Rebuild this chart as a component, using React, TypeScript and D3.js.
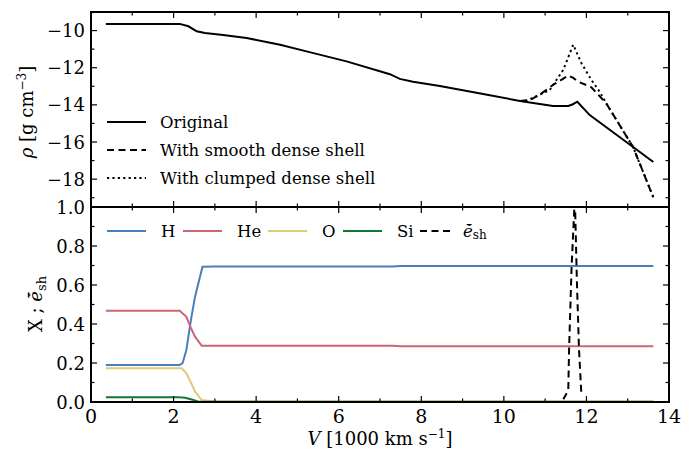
import React from 'react';
import * as d3 from 'd3';

// --- data ---
const origV = [0.36, 2.15, 2.36, 2.56, 2.76, 3.2, 3.77, 4.58, 5.22, 6.19, 7.24, 7.48, 7.8, 8.45, 9.4, 10.39, 11.19, 11.56, 11.66, 11.78, 12.08, 13.13, 13.62];
const origRho = [-9.64, -9.64, -9.77, -10.04, -10.13, -10.24, -10.4, -10.76, -11.12, -11.66, -12.35, -12.6, -12.75, -12.98, -13.38, -13.79, -14.06, -14.06, -13.98, -13.83, -14.55, -16.27, -17.08];

const smoothV = [10.39, 10.63, 10.9, 11.19, 11.56, 11.68, 11.8, 12.12, 12.48, 13.13, 13.62];
const smoothRho = [-13.79, -13.74, -13.4, -12.93, -12.42, -12.55, -12.75, -13.05, -13.92, -16.27, -18.98];

const clumpV = [10.39, 10.55, 11.11, 11.44, 11.68, 11.88, 12.12, 12.32, 12.48, 13.13, 13.62];
const clumpRho = [-13.79, -13.78, -13.2, -12.11, -10.76, -11.76, -12.66, -13.29, -13.92, -16.27, -18.98];

const hV = [0.36, 2.15, 2.22, 2.31, 2.42, 2.52, 2.7, 3.0, 7.3, 7.5, 13.62];
const hX = [0.19, 0.19, 0.2, 0.267, 0.42, 0.54, 0.694, 0.695, 0.695, 0.698, 0.698];
const heV = [0.36, 2.15, 2.31, 2.42, 2.52, 2.68, 3.0, 7.3, 7.5, 13.62];
const heX = [0.468, 0.468, 0.437, 0.38, 0.335, 0.289, 0.289, 0.289, 0.286, 0.286];
const oV = [0.36, 2.2, 2.31, 2.42, 2.52, 2.68, 3.0, 13.62];
const oX = [0.173, 0.173, 0.147, 0.1, 0.053, 0.01, 0.003, 0.003];
const siV = [0.36, 2.1, 2.28, 2.48, 2.6, 13.62];
const siX = [0.025, 0.025, 0.022, 0.01, 0.001, 0.001];
const eshV = [11.44, 11.56, 11.58, 11.64, 11.72, 11.77, 11.82, 11.88];
const eshX = [0.014, 0.06, 0.27, 0.69, 1.05, 0.61, 0.27, 0.03];

const xMajor = [0, 2, 4, 6, 8, 10, 12, 14];
const xMinor = [1, 3, 5, 7, 9, 11, 13];
const rhoMajor = [-10, -12, -14, -16, -18];
const rhoMinor = [-9, -11, -13, -15, -17, -19];
const xMajorB = [0, 0.2, 0.4, 0.6, 0.8, 1.0];
const xMinorB = [0.1, 0.3, 0.5, 0.7, 0.9];

const topLegend = ['Original', 'With smooth dense shell', 'With clumped dense shell'];
const species = ['H', 'He', 'O', 'Si'];
const speciesColors = ['#4a7ebb', '#cc6677', '#ddcc77', '#117733'];

const FONT = 'DejaVu Serif';
const L = 91, R = 669, T = 12, MID = 207, B = 402;

const zip = (a: number[], b: number[]) => a.map((v, i) => [v, b[i]] as [number, number]);

export default function App() {
  const x = d3.scaleLinear().domain([0, 14]).range([L, R]);
  const yTop = d3.scaleLinear().domain([-19.5, -9]).range([MID, T]);
  const yBot = d3.scaleLinear().domain([0, 1]).range([B, MID]);

  const lineTop = d3.line<[number, number]>().x(d => x(d[0])).y(d => yTop(d[1]));
  const lineBot = d3.line<[number, number]>().x(d => x(d[0])).y(d => yBot(d[1]));

  const speciesData = [zip(hV, hX), zip(heV, heX), zip(oV, oX), zip(siV, siX)];

  const dash = '7,4.5';
  const dot = '2.2,3.2';

  const ticksX = (y0: number, dir: number) => (
    <g stroke="#000" strokeWidth={1.2}>
      {xMajor.map(v => <line key={'M' + v} x1={x(v)} x2={x(v)} y1={y0} y2={y0 + dir * 6} />)}
      {xMinor.map(v => <line key={'m' + v} x1={x(v)} x2={x(v)} y1={y0} y2={y0 + dir * 3.5} />)}
    </g>
  );
  const ticksY = (scale: d3.ScaleLinear<number, number>, major: number[], minor: number[]) => (
    <g stroke="#000" strokeWidth={1.2}>
      {major.map(v => <g key={'M' + v}>
        <line x1={L} x2={L + 6} y1={scale(v)} y2={scale(v)} />
        <line x1={R} x2={R - 6} y1={scale(v)} y2={scale(v)} />
      </g>)}
      {minor.map(v => <g key={'m' + v}>
        <line x1={L} x2={L + 3.5} y1={scale(v)} y2={scale(v)} />
        <line x1={R} x2={R - 3.5} y1={scale(v)} y2={scale(v)} />
      </g>)}
    </g>
  );

  const botLegendX = [107, 183, 268, 343, 420];

  return (
    <div style={{ position: 'fixed', left: 0, top: 0 }}>
      <svg width={696} height={456} style={{ display: 'block', background: '#fff' }} fontFamily={FONT}>
        <defs>
          <clipPath id="clipTop"><rect x={L} y={T} width={R - L} height={MID - T} /></clipPath>
          <clipPath id="clipBot"><rect x={L} y={MID} width={R - L} height={B - MID} /></clipPath>
        </defs>

        {/* top panel */}
        <g clipPath="url(#clipTop)" fill="none" stroke="#000" strokeWidth={2}>
          <path d={lineTop(zip(origV, origRho)) || ''} />
          <path d={lineTop(zip(smoothV, smoothRho)) || ''} strokeDasharray={dash} />
          <path d={lineTop(zip(clumpV, clumpRho)) || ''} strokeDasharray={dot} />
        </g>

        {/* bottom panel */}
        <g clipPath="url(#clipBot)" fill="none" strokeWidth={2}>
          {speciesData.map((d, i) => (
            <path key={species[i]} d={lineBot(d) || ''} stroke={speciesColors[i]} />
          ))}
          <path d={lineBot(zip(eshV, eshX)) || ''} stroke="#000" strokeDasharray={dash} />
        </g>

        {/* frames & ticks */}
        {ticksX(T, 1)}
        {ticksX(MID, -1)}
        {ticksX(MID, 1)}
        {ticksX(B, -1)}
        {ticksY(yTop, rhoMajor, rhoMinor)}
        {ticksY(yBot, xMajorB, xMinorB)}
        <rect x={L} y={T} width={R - L} height={MID - T} fill="none" stroke="#000" strokeWidth={2} />
        <rect x={L} y={MID} width={R - L} height={B - MID} fill="none" stroke="#000" strokeWidth={2} />

        {/* tick labels */}
        <g fontSize={18} textAnchor="end" dominantBaseline="central">
          {rhoMajor.map(v => <text key={v} x={L - 6} y={yTop(v)}>{'\u2212' + Math.abs(v)}</text>)}
          {xMajorB.map(v => <text key={v} x={L - 6} y={yBot(v)}>{v.toFixed(1)}</text>)}
        </g>
        <g fontSize={19} textAnchor="middle">
          {xMajor.map(v => <text key={v} x={x(v)} y={423}>{v}</text>)}
        </g>

        {/* axis labels */}
        <text x={380} y={445} fontSize={18} textAnchor="middle">
          <tspan fontStyle="italic">V</tspan> [1000 km s<tspan dy={-7} fontSize={12}>{'\u22121'}</tspan><tspan dy={7}>]</tspan>
        </text>
        <text transform="translate(33,112) rotate(-90)" fontSize={18} textAnchor="middle">
          <tspan fontStyle="italic">{'\u03c1'}</tspan> [g cm<tspan dy={-7} fontSize={12}>{'\u22123'}</tspan><tspan dy={7}>]</tspan>
        </text>
        <text transform="translate(42,304) rotate(-90)" fontSize={18} textAnchor="middle">
          X ; <tspan fontStyle="italic">{'e\u0307\u0304'}</tspan><tspan dy={4} fontSize={13}>sh</tspan>
        </text>

        {/* top legend */}
        <g fontSize={16.5}>
          {topLegend.map((t, i) => {
            const yy = 122 + i * 28;
            return (
              <g key={t}>
                <line x1={107} x2={146} y1={yy} y2={yy} stroke="#000" strokeWidth={2}
                  strokeDasharray={i === 0 ? undefined : i === 1 ? dash : dot} />
                <text x={160} y={yy} dominantBaseline="central">{t}</text>
              </g>
            );
          })}
        </g>

        {/* bottom legend */}
        <g fontSize={16.5}>
          {species.map((s, i) => (
            <g key={s}>
              <line x1={botLegendX[i]} x2={botLegendX[i] + 39} y1={231} y2={231} stroke={speciesColors[i]} strokeWidth={2} />
              <text x={botLegendX[i] + 54} y={231} dominantBaseline="central">{s}</text>
            </g>
          ))}
          <line x1={botLegendX[4]} x2={botLegendX[4] + 32} y1={231} y2={231} stroke="#000" strokeWidth={2} strokeDasharray={dash} />
          <text x={botLegendX[4] + 43} y={231} dominantBaseline="central">
            <tspan fontStyle="italic">{'e\u0307\u0304'}</tspan><tspan dy={4} fontSize={12}>sh</tspan>
          </text>
        </g>
      </svg>
    </div>
  );
}
